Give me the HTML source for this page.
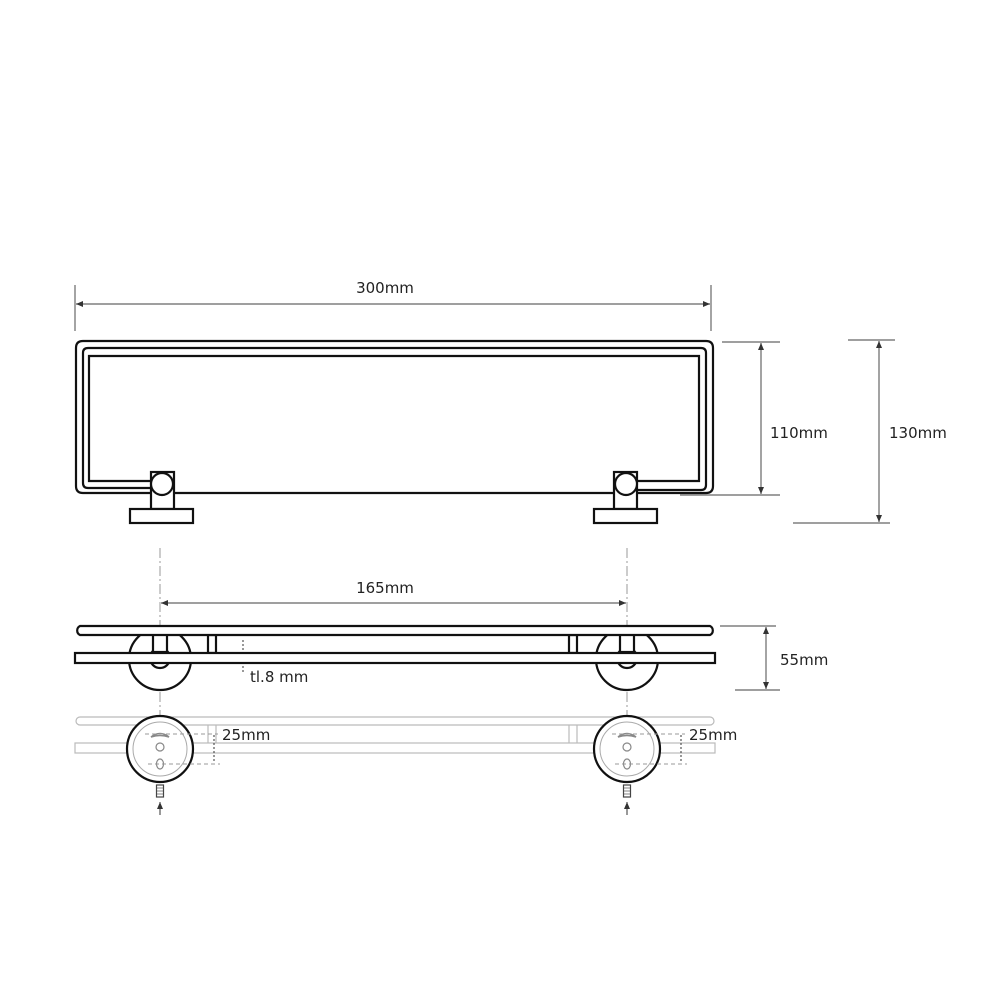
<!DOCTYPE html>
<html><head><meta charset="utf-8"><style>
html,body{margin:0;padding:0;background:#fff;}
svg{display:block;}
text{font-family:"DejaVu Sans","Liberation Sans",sans-serif;fill:#222;}
</style></head><body>
<svg width="1000" height="1000" viewBox="0 0 1000 1000" xmlns="http://www.w3.org/2000/svg">
<defs>
<marker id="a" markerWidth="8" markerHeight="8" refX="7" refY="3" orient="auto" markerUnits="userSpaceOnUse"><path d="M0,0 L7,3 L0,6z" fill="#333"/></marker>
<marker id="b" markerWidth="8" markerHeight="8" refX="0" refY="3" orient="auto" markerUnits="userSpaceOnUse"><path d="M7,0 L0,3 L7,6z" fill="#333"/></marker>
</defs>
<g stroke="#666" stroke-width="1.2" fill="none">
<line x1="75" y1="285" x2="75" y2="331"/><line x1="711" y1="285" x2="711" y2="331"/>
<line x1="76" y1="304" x2="710" y2="304" marker-start="url(#b)" marker-end="url(#a)"/>
<line x1="722" y1="342" x2="780" y2="342"/><line x1="680" y1="495" x2="780" y2="495"/>
<line x1="761" y1="343" x2="761" y2="494" marker-start="url(#b)" marker-end="url(#a)"/>
<line x1="848" y1="340" x2="895" y2="340"/><line x1="793" y1="523" x2="890" y2="523"/>
<line x1="879" y1="341" x2="879" y2="522" marker-start="url(#b)" marker-end="url(#a)"/>
<line x1="161" y1="603" x2="626" y2="603" marker-start="url(#b)" marker-end="url(#a)"/>
<line x1="720" y1="626" x2="776" y2="626"/><line x1="735" y1="690" x2="780" y2="690"/>
<line x1="766" y1="627" x2="766" y2="689" marker-start="url(#b)" marker-end="url(#a)"/>
</g>
<text x="385" y="293" font-size="15" text-anchor="middle">300mm</text>
<text x="770" y="438" font-size="15">110mm</text>
<text x="889" y="438" font-size="15">130mm</text>
<text x="385" y="593" font-size="15" text-anchor="middle">165mm</text>
<text x="780" y="665" font-size="15">55mm</text>
<text x="250" y="682" font-size="15">tl.8 mm</text>
<text x="222" y="740" font-size="15">25mm</text>
<text x="689" y="740" font-size="15">25mm</text>

<g stroke="#111" stroke-width="2.2" fill="none">
<path d="M151,493 L83,493 Q76,493 76,486 L76,348 Q76,341 83,341 L706,341 Q713,341 713,348 L713,486 Q713,493 706,493 L637,493"/>
<line x1="173" y1="493" x2="614" y2="493"/>
<path d="M151,488 L88,488 Q83,488 83,483 L83,353 Q83,348 88,348 L701,348 Q706,348 706,353 L706,485 Q706,490 701,490 L637,490"/>
<path d="M151,481 L89,481 L89,356 L699,356 L699,481 L637,481"/>
<rect x="151" y="472" width="23" height="37" fill="#fff"/>
<circle cx="162" cy="484" r="11" fill="#fff"/>
<rect x="130" y="509" width="63" height="14" fill="#fff"/>
<rect x="614" y="472" width="23" height="37" fill="#fff"/>
<circle cx="626" cy="484" r="11" fill="#fff"/>
<rect x="594" y="509" width="63" height="14" fill="#fff"/>
</g>

<g stroke="#999" stroke-width="1" stroke-dasharray="10,3,2,3">
<line x1="160" y1="548" x2="160" y2="780"/>
<line x1="627" y1="548" x2="627" y2="780"/>
</g>

<g stroke="#111" stroke-width="2.2" fill="#fff">
<circle cx="160" cy="659" r="31"/>
<circle cx="627" cy="659" r="31"/>
<circle cx="160" cy="658" r="10"/>
<circle cx="627" cy="658" r="10"/>
<rect x="153" y="634" width="14" height="18"/>
<rect x="620" y="634" width="14" height="18"/>
<rect x="208" y="635" width="8" height="18"/>
<rect x="569" y="635" width="8" height="18"/>
<path d="M80,626 L710,626 A5,5 0 0 1 710,635 L80,635 A5,5 0 0 1 80,626z"/>
<rect x="75" y="653" width="640" height="10"/>
</g>
<g stroke="#333" stroke-width="1" stroke-dasharray="2,2"><line x1="243" y1="640" x2="243" y2="650"/><line x1="243" y1="666" x2="243" y2="674"/></g>

<g stroke="#bbb" stroke-width="1.2" fill="none">
<path d="M80,717 L710,717 A4,4 0 0 1 710,725 L80,725 A4,4 0 0 1 80,717z"/>
<rect x="75" y="743" width="640" height="10"/>
<line x1="208" y1="725" x2="208" y2="743"/><line x1="216" y1="725" x2="216" y2="743"/>
<line x1="569" y1="725" x2="569" y2="743"/><line x1="577" y1="725" x2="577" y2="743"/>
</g>
<g id="f">
<circle cx="160" cy="749" r="33" fill="#fff" stroke="#111" stroke-width="2.2"/>
<circle cx="160" cy="749" r="27" fill="none" stroke="#aaa" stroke-width="1"/>
<path d="M151,737 Q160,730 169,737 Q160,734 151,737z" fill="none" stroke="#888" stroke-width="1.5"/>
<circle cx="160" cy="747" r="4" fill="none" stroke="#888" stroke-width="1.2"/>
<ellipse cx="160" cy="764" rx="3.5" ry="5" fill="none" stroke="#888" stroke-width="1.2"/>
<g stroke="#999" stroke-width="1" stroke-dasharray="4,3" fill="none">
<line x1="145" y1="734" x2="218" y2="734"/><line x1="148" y1="764" x2="220" y2="764"/>
</g>
<line x1="214" y1="735" x2="214" y2="763" stroke="#333" stroke-width="1" stroke-dasharray="2,2"/>
<rect x="156.5" y="785" width="7" height="12" fill="#fff" stroke="#444" stroke-width="1.2"/>
<g stroke="#666" stroke-width="0.8"><line x1="157" y1="788" x2="163" y2="788"/><line x1="157" y1="791" x2="163" y2="791"/><line x1="157" y1="794" x2="163" y2="794"/></g>
<line x1="160" y1="815" x2="160" y2="802" stroke="#333" stroke-width="1" marker-end="url(#a)"/>
</g>
<use href="#f" transform="translate(467,0)"/>
</svg>
</body></html>
